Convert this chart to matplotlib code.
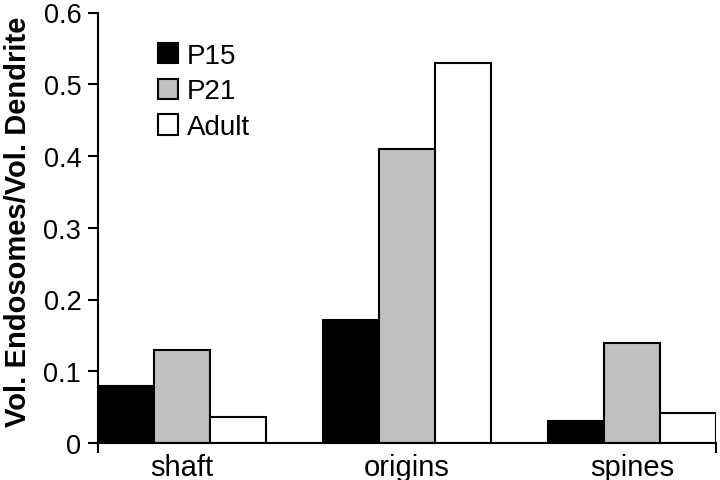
import matplotlib
matplotlib.use("Agg")
import matplotlib.pyplot as plt
import numpy as np

categories = ["shaft", "origins", "spines"]
series = ["P15", "P21", "Adult"]
p15 = [0.080, 0.172, 0.030]
p21 = [0.129, 0.410, 0.139]
adult = [0.036, 0.530, 0.042]
yticks = [0, 0.1, 0.2, 0.3, 0.4, 0.5, 0.6]
ytick_labels = ["0", "0.1", "0.2", "0.3", "0.4", "0.5", "0.6"]

plt.rcParams['font.family'] = ['Liberation Sans', 'DejaVu Sans']

fig = plt.figure(figsize=(7.2, 4.81), dpi=100)
ax = fig.add_axes([98/720, 1-444/481, 618/720, (444-13.5)/481])

w = 0.248
x = np.arange(len(categories))
colors = ["black", "#c0c0c0", "white"]
for i, (vals, c, lab) in enumerate(zip([p15, p21, adult], colors, series)):
    ax.bar(x + (i-1)*w, vals, width=w, color=c, edgecolor="black", linewidth=1.5, label=lab)

ax.set_xlim(-1.5*w, 2 + 1.5*w)
ax.set_ylim(0, 0.6)
ax.set_yticks(yticks)
ax.set_yticklabels(ytick_labels)
ax.set_xticks(x)
ax.set_xticklabels(categories)
ax.tick_params(axis='x', length=0, labelsize=21, pad=7)
ax.tick_params(axis='y', length=7, width=1.5, labelsize=19.5, direction='out', pad=5)
ax.set_xticks([-1.5*w, 2+1.5*w], minor=True)
ax.tick_params(axis='x', which='minor', length=7, width=1.5, direction='out')
for s in ['top', 'right']:
    ax.spines[s].set_visible(False)
for s in ['left', 'bottom']:
    ax.spines[s].set_linewidth(1.5)

ax.set_ylabel("Vol. Endosomes/Vol. Dendrite", fontsize=21, fontweight='bold')
ax.yaxis.set_label_coords(-0.106, 0.515)

ax.legend(loc='upper left', bbox_to_anchor=(0.074, 0.962), frameon=False, fontsize=20,
          handlelength=0.75, handleheight=0.75, handletextpad=0.3, labelspacing=0.35, borderpad=0)

fig.savefig("out.png", dpi=100)
